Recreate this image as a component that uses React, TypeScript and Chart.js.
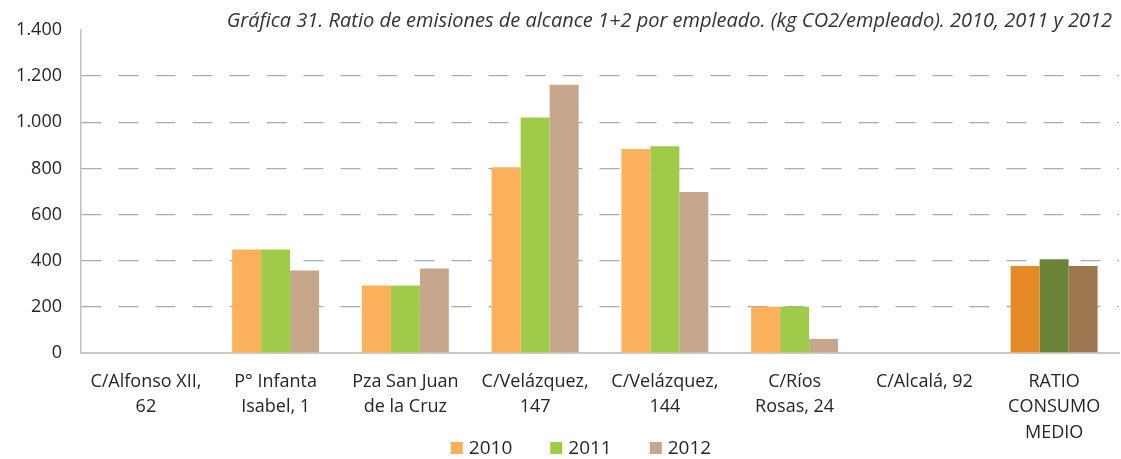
import React, { useEffect, useRef } from "react";
import { Chart, registerables } from "chart.js";

Chart.register(...registerables);

const categories: string[][] = [
  ["C/Alfonso XII,", "62"],
  ["P° Infanta", "Isabel, 1"],
  ["Pza San Juan", "de la Cruz"],
  ["C/Velázquez,", "147"],
  ["C/Velázquez,", "144"],
  ["C/Ríos", "Rosas, 24"],
  ["C/Alcalá, 92"],
  ["RATIO", "CONSUMO", "MEDIO"],
];

const years = ["2010", "2011", "2012"];

const values2010 = [0, 449, 293, 805, 884, 200, 0, 377];
const values2011 = [0, 449, 293, 1021, 896, 200, 0, 406];
const values2012 = [0, 358, 366, 1163, 698, 61, 0, 377];

const baseColors = ["#FBB15B", "#9FCB48", "#C6A78B"];
const averageColors = ["#E48A27", "#6B843A", "#9C7750"];

const yTicks = [0, 200, 400, 600, 800, 1000, 1200, 1400];

const titleText =
  "Gráfica 31. Ratio de emisiones de alcance 1+2 por empleado. (kg CO2/empleado). 2010, 2011 y 2012";

const FONT = '"Open Sans", sans-serif';

function fmt(v: number): string {
  if (v >= 1000) {
    const th = Math.floor(v / 1000);
    const rest = String(v % 1000).padStart(3, "0");
    return `${th}.${rest}`;
  }
  return String(v);
}

const decorPlugin = {
  id: "customDecor",
  afterDraw(chart: any) {
    const ctx = chart.ctx as CanvasRenderingContext2D;
    ctx.save();
    // title
    ctx.font = `italic 20px ${FONT}`;
    ctx.textBaseline = "middle";
    ctx.textAlign = "right";
    ctx.fillStyle = "#333333";
    ctx.fillText(titleText, 1112, 21);
    // legend
    ctx.textAlign = "left";
    ctx.font = `19px ${FONT}`;
    const box = 12;
    const gapText = 6;
    const gapItem = 38;
    const items = chart.data.datasets.map((ds: any) => ({
      label: ds.label as string,
      color: ds.legendColor as string,
      w: ctx.measureText(ds.label).width,
    }));
    const total =
      items.reduce((s: number, it: any) => s + box + gapText + it.w, 0) +
      gapItem * (items.length - 1);
    let x = 581 - total / 2;
    const y = 448;
    for (const it of items) {
      ctx.fillStyle = it.color;
      ctx.fillRect(x, y - box / 2, box, box);
      ctx.fillStyle = "#262626";
      ctx.fillText(it.label, x + box + gapText, y + 1);
      x += box + gapText + it.w + gapItem;
    }
    ctx.restore();
  },
};

export default function App() {
  const ref = useRef<HTMLCanvasElement | null>(null);

  useEffect(() => {
    if (!ref.current) return;
    const series = [values2010, values2011, values2012];
    const chart = new Chart(ref.current, {
      type: "bar",
      data: {
        labels: categories as any,
        datasets: series.map((vals, i) => ({
          label: years[i],
          data: vals,
          backgroundColor: vals.map((_, j) =>
            j === vals.length - 1 ? averageColors[i] : baseColors[i]
          ),
          borderWidth: 0,
          barPercentage: 1,
          categoryPercentage: 0.67,
          legendColor: baseColors[i],
        })) as any,
      },
      options: {
        responsive: false,
        animation: false,
        maintainAspectRatio: false,
        layout: { padding: { left: 0, right: 2, top: 30, bottom: 0 } },
        plugins: {
          legend: { display: false },
          tooltip: { enabled: false },
          title: { display: false },
        },
        scales: {
          x: {
            grid: { display: true, color: "transparent", drawTicks: false },
            border: { display: true, color: "#C9C9C9", width: 2 },
            ticks: {
              color: "#262626",
              font: { family: FONT, size: 18, lineHeight: 1.42 },
              padding: 16,
              maxRotation: 0,
              autoSkip: false,
            },
            afterFit(scale: any) {
              scale.height = 106;
            },
          },
          y: {
            min: 0,
            max: 1400,
            afterBuildTicks(scale: any) {
              scale.ticks = yTicks.map((v) => ({ value: v }));
            },
            grid: {
              drawTicks: false,
              lineWidth: 1.3,
              color: (c: any) =>
                c.tick && (c.tick.value === 0 || c.tick.value === 1400)
                  ? "transparent"
                  : "#ABABAB",
            },
            border: { display: true, color: "#BFBFBF", width: 1.5, dash: [20, 17] },
            ticks: {
              color: "#262626",
              font: { family: FONT, size: 18 },
              padding: 19,
              callback: (v: any) => fmt(Number(v)),
            },
            afterFit(scale: any) {
              scale.width = 81;
            },
          },
        },
      },
      plugins: [decorPlugin],
    });
    return () => chart.destroy();
  }, []);

  return (
    <div style={{ position: "fixed", left: 0, top: 0, width: 1121, height: 459, background: "#fff" }}>
      <canvas ref={ref} width={1121} height={459} style={{ width: 1121, height: 459 }} />
    </div>
  );
}
